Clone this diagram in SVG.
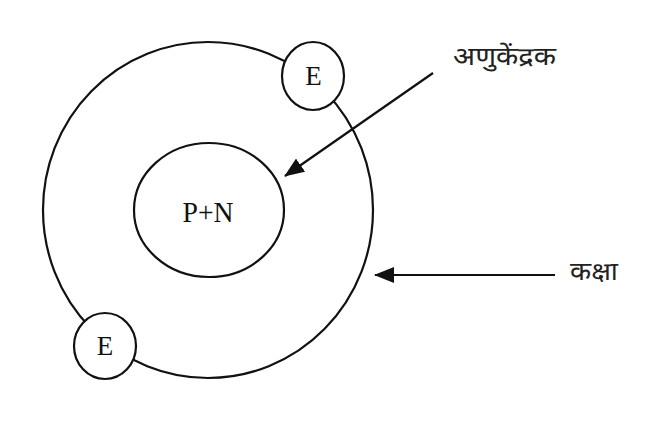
<svg xmlns="http://www.w3.org/2000/svg" width="661" height="437" viewBox="0 0 661 437">
<style>
.ln{fill:none;stroke:#111;stroke-width:2.2}
.nd{fill:#fff;stroke:#111;stroke-width:2.2}
.lt{font-family:"Liberation Serif","Times New Roman",serif;fill:#111}
.hi{font-family:"Noto Sans Devanagari","Noto Sans","Lohit Devanagari",sans-serif;fill:#222}
</style>
<defs>
<marker id="ah" markerUnits="userSpaceOnUse" markerWidth="20" markerHeight="16" refX="19" refY="8" orient="auto" viewBox="0 0 20 16">
<path d="M0,0 L20,8 L0,16 Z" fill="#111"/>
</marker>
</defs>
<rect width="661" height="437" fill="#fff"/>
<g id="orbit"><ellipse class="ln" cx="208" cy="210" rx="165" ry="168"/></g>
<g id="nucleus"><ellipse class="nd" cx="209" cy="210" rx="75" ry="67" fill="#fffef6"/><text class="lt" x="208" y="222" font-size="30" text-anchor="middle" textLength="51" lengthAdjust="spacingAndGlyphs">P+N</text></g>
<g id="electron1"><ellipse class="nd" cx="313" cy="76" rx="31" ry="34"/><text class="lt" x="313.5" y="85" font-size="27" text-anchor="middle">E</text></g>
<g id="electron2"><ellipse class="nd" cx="105" cy="346" rx="31" ry="33"/><text class="lt" x="105" y="355" font-size="27" text-anchor="middle">E</text></g>
<g id="connectors">
<line class="ln" x1="433" y1="73" x2="285" y2="176" marker-end="url(#ah)"/>
<line class="ln" x1="555" y1="275" x2="375" y2="275" marker-end="url(#ah)"/>
</g>
<g id="label-nucleus"><text class="hi" x="453" y="65" font-size="25" textLength="103" lengthAdjust="spacingAndGlyphs">अणुकेंद्रक</text></g>
<g id="label-orbit"><text class="hi" x="570" y="280" font-size="25" textLength="48" lengthAdjust="spacingAndGlyphs">कक्षा</text></g>
</svg>
